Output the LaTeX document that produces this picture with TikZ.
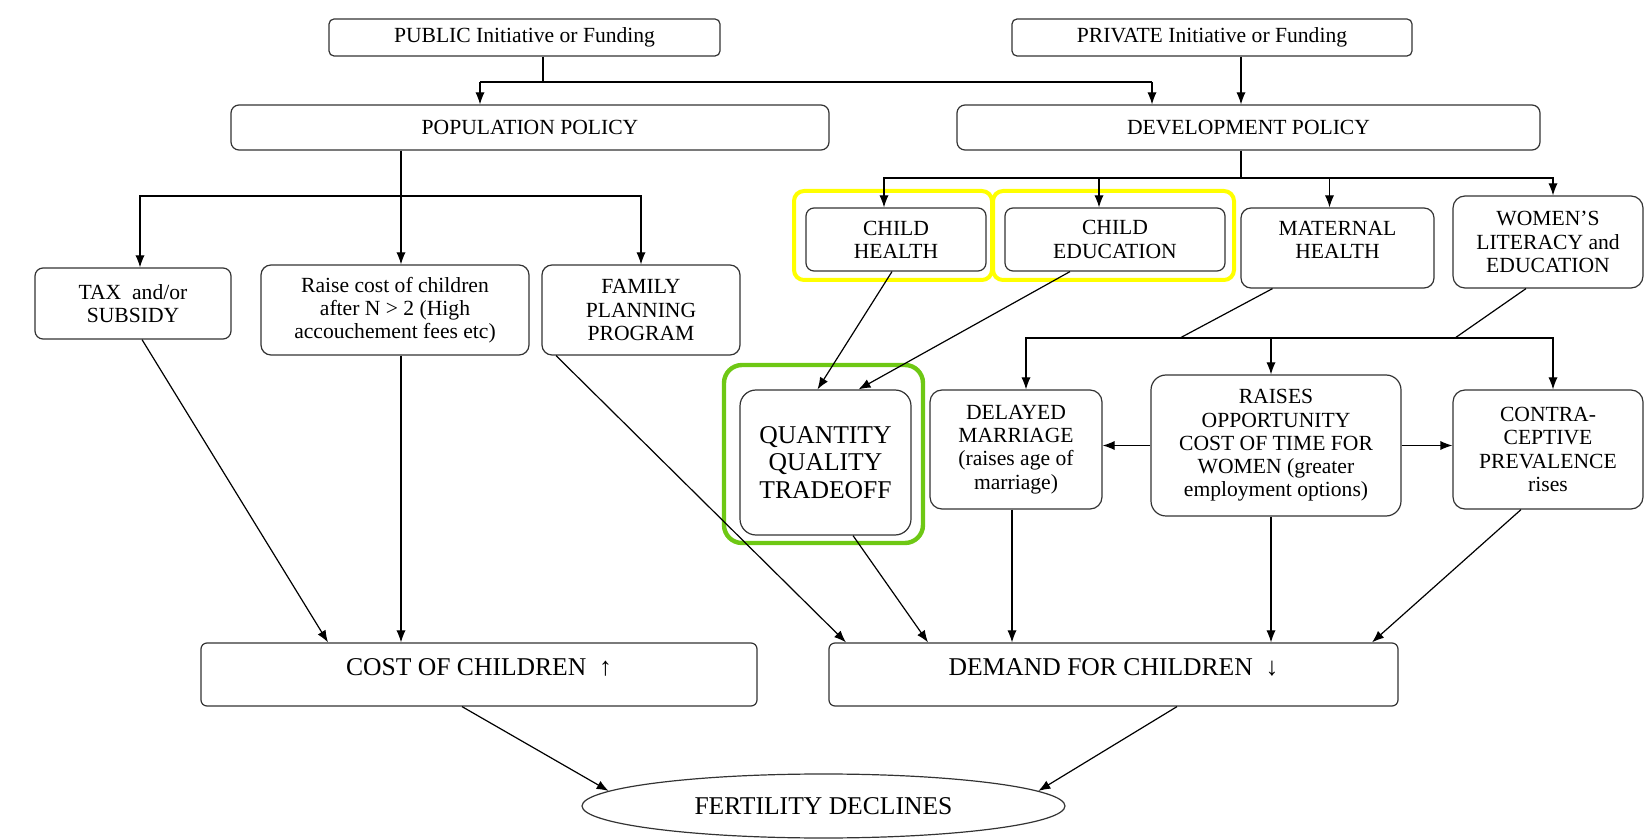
\documentclass[tikz,border=0pt]{standalone}
\usepackage{fontspec}
\setmainfont{Liberation Serif}
\usetikzlibrary{arrows.meta,shapes.geometric}
\definecolor{hlyellow}{RGB}{255,255,0}
\definecolor{hlgreen}{RGB}{110,200,20}

\begin{document}
\begin{tikzpicture}[x=0.5pt,y=-0.5pt,
    >={Latex[length=6pt,width=4.6pt]},
    box/.style={draw=black!80, line width=0.6pt, rounded corners=4pt, align=center,
      inner sep=2pt, font=\fontsize{10.8}{11.6}\selectfont},
    bigbox/.style={box, font=\fontsize{12.8}{13.6}\selectfont},
    link/.style={line width=0.6pt}]
    \useasboundingbox (0,0) rectangle (1645,839);

    % highlight frames
    \draw[hlyellow, line width=2pt, rounded corners=5pt] (794,191) rectangle (992,280);
    \draw[hlyellow, line width=2pt, rounded corners=5pt] (993,191) rectangle (1234,280);
    \draw[hlgreen, line width=2.2pt, rounded corners=9pt] (724,365) rectangle (923,543);

    % top
    \node[box, rounded corners=2.5pt, minimum width=195.5pt, minimum height=18.5pt] (pub) at (524.5,37.5) {PUBLIC Initiative or Funding};
    \node[box, rounded corners=2.5pt, minimum width=200pt, minimum height=18.5pt] (priv) at (1212,37.5) {PRIVATE Initiative or Funding};
    \node[box, minimum width=299pt, minimum height=22.5pt] (pop) at (530,127.5) {POPULATION POLICY};
    \node[box, minimum width=291.5pt, minimum height=22.5pt] (dev) at (1248.5,127.5) {DEVELOPMENT POLICY};

    % population side
    \node[box, minimum width=98pt, minimum height=35.5pt] (tax) at (133,303.5) {TAX~~and/or\\SUBSIDY};
    \node[box, rounded corners=5pt, minimum width=134pt, minimum height=45pt] (rais) at (395,310) {Raise cost of children\\after N > 2 (High\\accouchement fees etc)};
    \node[box, rounded corners=5pt, minimum width=99pt, minimum height=45pt] (fam) at (641,310) {FAMILY\\PLANNING\\PROGRAM};

    % development side
    \node[box, minimum width=90pt, minimum height=31.5pt] (chh) at (896,239.5) {CHILD\\HEALTH};
    \node[box, minimum width=110pt, minimum height=31.5pt] (che) at (1115,239.5) {CHILD\\EDUCATION};
    \node[box, rounded corners=5pt, minimum width=96.5pt, minimum height=40pt, text depth=8pt] (mat) at (1337.5,248) {MATERNAL\\HEALTH};
    \node[box, rounded corners=6pt, minimum width=95pt, minimum height=46pt] (wom) at (1548,242) {WOMEN’S\\LITERACY and\\EDUCATION};

    \node[bigbox, rounded corners=8pt, minimum width=85.5pt, minimum height=72.5pt] (qq) at (825.5,462.5) {QUANTITY\\QUALITY\\TRADEOFF};
    \node[box, rounded corners=6pt, minimum width=86pt, minimum height=59.5pt] (del) at (1016,449.5) {DELAYED\\MARRIAGE\\(raises age of\\marriage)};
    \node[box, rounded corners=7.5pt, minimum width=125pt, minimum height=70.5pt] (opp) at (1276,445.5) {RAISES\\OPPORTUNITY\\COST OF TIME FOR\\WOMEN (greater\\employment options)};
    \node[box, rounded corners=6pt, minimum width=95pt, minimum height=59.5pt] (con) at (1548,449.5) {CONTRA-\\CEPTIVE\\PREVALENCE\\rises};

    % bottom
    \node[bigbox, rounded corners=3pt, minimum width=278pt, minimum height=31.5pt, text height=9pt, text depth=8pt] (cost) at (479,674.5) {COST OF CHILDREN~ ↑};
    \node[bigbox, rounded corners=3pt, minimum width=284.5pt, minimum height=31.5pt, text height=9pt, text depth=8pt] (dem) at (1113.5,674.5) {DEMAND FOR CHILDREN~ ↓};
    \node[bigbox, ellipse, rounded corners=0pt, inner sep=0pt, minimum width=241.5pt, minimum height=32pt] (fert) at (823.5,806) {FERTILITY DECLINES};

    % branch points
    \coordinate (pb) at (543,82);
    \coordinate (tl) at (480,82);
    \coordinate (tr) at (1152,82);
    \coordinate (pv) at (1241,0);
    \coordinate (pp) at (401,196);
    \coordinate (dp) at (1241,178);
    \coordinate (mp) at (1271,338);
    \coordinate (mj) at (1180,338);
    \coordinate (wj) at (1455,338);

    \draw[link] (pub.south -| pb) -- (pb);
    \draw[link] (tl) -- (tr);
    \draw[link,->] (tl) -- (tl |- pop.north);
    \draw[link,->] (tr) -- (tr |- dev.north);
    \draw[link,->] (priv.south -| pv) -- (dev.north -| pv);

    \draw[link] (pop.south -| pp) -- (pp);
    \draw[link,->] (pp) -| ([xshift=3.5pt]tax.north);
    \draw[link,->] (pp) -| (fam.north);
    \draw[link,->] (pp) -- (rais.north -| pp);

    \draw[link] (dev.south -| dp) -- (dp);
    \draw[link,->] (dp) -| ([xshift=-6pt]chh.north);
    \draw[link,->] (dp) -| ([xshift=-8pt]che.north);
    \draw[link,->] (dp) -| ([xshift=-4pt]mat.north);
    \draw[link,->] (dp) -| ([xshift=2.5pt]wom.north);

    \draw[link] ([xshift=-32.5pt]mat.south) -- (mj);
    \draw[link] ([xshift=-11pt]wom.south) -- (wj);
    \draw[link,->] (mp) -| ([xshift=5pt]del.north);
    \draw[link,->] (mp) -| ([xshift=2.5pt]con.north);
    \draw[link,->] (mp) -- (mp |- opp.north);
    \draw[link,->] (opp.west) -- (opp.west -| del.east);
    \draw[link,->] (opp.east) -- (opp.east -| con.west);

    \draw[link,->] ([xshift=-2pt]chh.south) -- ([xshift=-4pt]qq.north);
    \draw[link,->] ([xshift=-22.5pt]che.south) -- ([xshift=16.5pt]qq.north);

    \draw[link,->] ([xshift=4.5pt]tax.south) -- ([xshift=-75.5pt]cost.north);
    \draw[link,->] (rais.south -| pp) -- (cost.north -| pp);
    \draw[link,->] ([xshift=-42.5pt]fam.south) -- ([xshift=-133.75pt]dem.north);
    \draw[link,->] ([xshift=13.75pt]qq.south) -- ([xshift=-92.75pt]dem.north);
    \draw[link,->] ([xshift=-2pt]del.south) -- ([xshift=-50.75pt]dem.north);
    \draw[link,->] (opp.south -| mp) -- (dem.north -| mp);
    \draw[link,->] ([xshift=-13.5pt]con.south) -- ([xshift=129.25pt]dem.north);

    \draw[link,->] ([xshift=-8.5pt]cost.south) -- (fert.176);
    \draw[link,->] ([xshift=31.75pt]dem.south) -- (fert.4);
\end{tikzpicture}
\end{document}
